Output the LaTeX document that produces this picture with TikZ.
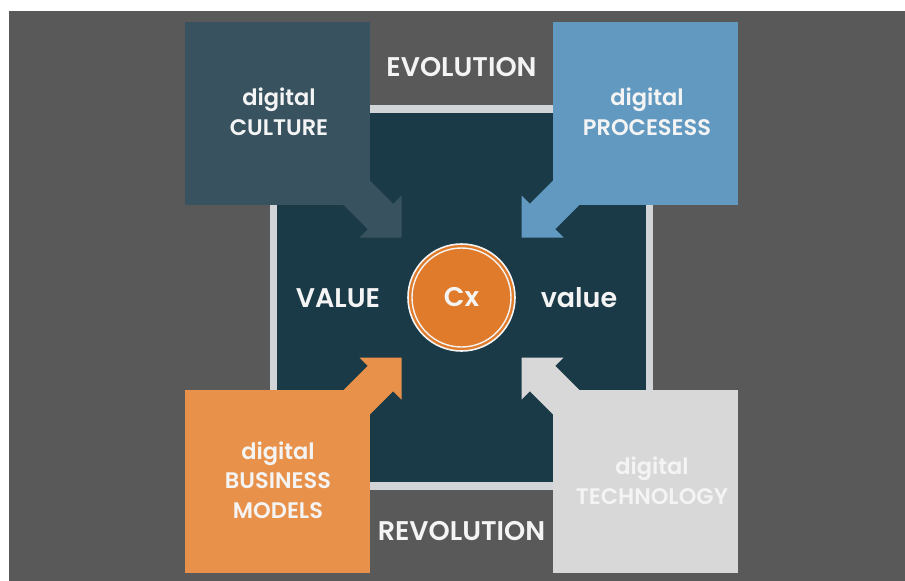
\documentclass[tikz,border=0pt]{standalone}
\usepackage{fontspec}
\setmainfont{Poppins}[BoldFont={Poppins SemiBold}]
\definecolor{bggray}{HTML}{595959}
\definecolor{framegray}{HTML}{D2D5D8}
\definecolor{darkteal}{HTML}{1B3A48}
\definecolor{slate}{HTML}{38535F}
\definecolor{steel}{HTML}{6199C0}
\definecolor{orangebox}{HTML}{E8914A}
\definecolor{lightbox}{HTML}{D8D8D8}
\definecolor{cxorange}{HTML}{E07B2B}
\definecolor{txt}{HTML}{F4F4F4}
\tikzset{
  boxnode/.style={fill=#1, draw=none, minimum width=185pt, minimum height=183pt, anchor=north west, inner sep=0pt},
  boxtext/.style={text=txt, align=center, font=\bfseries\fontsize{22.5}{29.5}\selectfont},
  bigtext/.style={text=txt, font=\bfseries\fontsize{27}{30}\selectfont},
}
\newcommand{\blockarrowpath}{(-128.3,-153.7) -- (-68.3,-93.7) -- (-60,-102) -- (-60,-60) -- (-102,-60) -- (-93.7,-68.3) -- (-153.7,-128.3) -- cycle}
\begin{document}
\begin{tikzpicture}[x=1pt,y=-1pt]
\useasboundingbox (0,0) rectangle (905,581);
\fill[bggray] (9,11) rectangle (905,581);
% frame
\fill[framegray] (270,105) rectangle (653,490);
\fill[darkteal] (277,113) rectangle (646,482);
% boxes
\node[boxnode=slate] (bc) at (185,22) {};
\node[boxnode=steel] (bp) at (553,22) {};
\node[boxnode=orangebox] (bb) at (185,390) {};
\node[boxnode=lightbox] (bt) at (553,390) {};
% block arrows
\begin{scope}[shift={(461.5,297.5)}]
  \fill[slate] \blockarrowpath;
\end{scope}
\begin{scope}[shift={(461.5,297.5)},xscale=-1]
  \fill[steel] \blockarrowpath;
\end{scope}
\begin{scope}[shift={(461.5,297.5)},yscale=-1]
  \fill[orangebox] \blockarrowpath;
\end{scope}
\begin{scope}[shift={(461.5,297.5)},xscale=-1,yscale=-1]
  \fill[lightbox] \blockarrowpath;
\end{scope}
% circle
\node[circle, fill=cxorange, draw=txt, line width=1.6pt, minimum size=107pt, inner sep=0pt] (cx) at (461.5,297.5) {};
\node[circle, draw=txt, line width=1.4pt, minimum size=99pt, inner sep=0pt] (cxin) at (461.5,297.5) {};
\node[bigtext] (cxl) at (461.5,297.5) {Cx};
% texts
\node[boxtext] (tc) at (279,112) {digital\\CULTURE};
\node[boxtext] (tp) at (647,112) {digital\\PROCESESS};
\node[boxtext] (tb) at (278,480) {digital\\BUSINESS\\MODELS};
\node[boxtext] (tt) at (652,481) {digital\\TECHNOLOGY};
\node[bigtext] (evo) at (461.5,67) {EVOLUTION};
\node[bigtext] (rev) at (461.5,531) {REVOLUTION};
\node[bigtext] (v1) at (338,298) {VALUE};
\node[bigtext] (v2) at (579,298) {value};
\end{tikzpicture}
\end{document}
